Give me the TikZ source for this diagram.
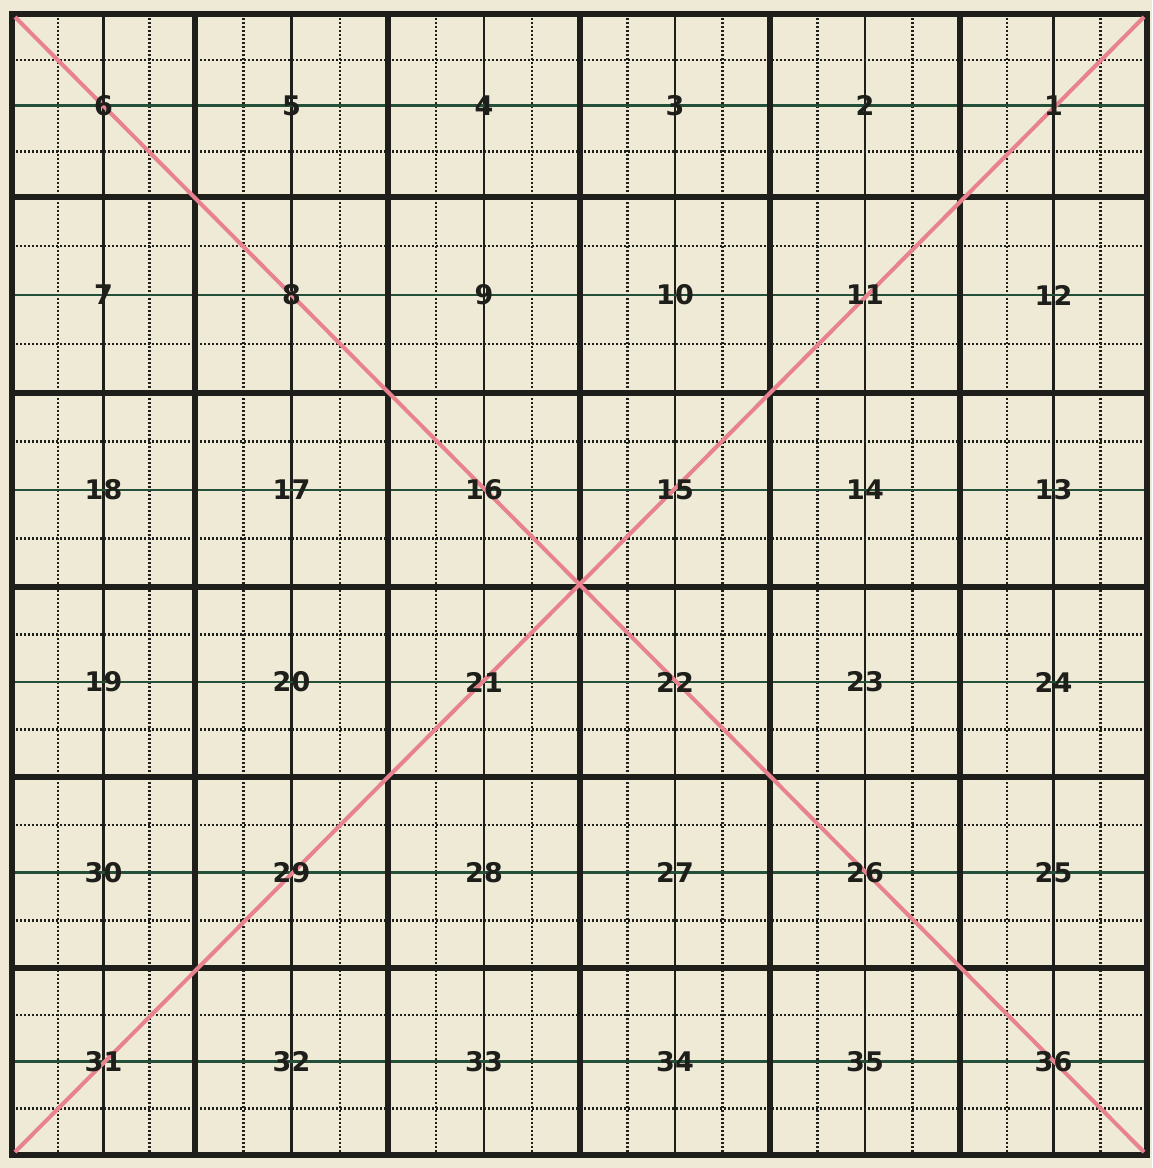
\documentclass[tikz,border=0pt]{standalone}
\usepackage{fontspec}
\setmainfont{DejaVu Sans}
\definecolor{paper}{HTML}{EEEAD6}
\definecolor{ink}{HTML}{1E1E1A}
\definecolor{gline}{HTML}{24503A}
\definecolor{pinkline}{HTML}{E8828E}
\tikzset{
  heavyline/.style={line width=6pt, draw=ink, line cap=rect},
  midvline/.style={line width=2.4pt, draw=ink},
  midhline/.style={line width=2.4pt, draw=gline},
  dotline/.style={line width=2.5pt, draw=ink, dash pattern=on 1.8pt off 2.2pt},
  diagline/.style={line width=4pt, draw=pinkline},
  numlabel/.style={font=\bfseries\fontsize{27}{27}\selectfont, text=ink, inner sep=0pt}
}
\begin{document}
\begin{tikzpicture}[x=1pt,y=-1pt]
\fill[paper] (0,0) rectangle (1152,1168);
\useasboundingbox (0,0) rectangle (1152,1168);
\def\xl{12}\def\xr{1147}\def\yt{14}\def\yb{1155}
% dotted quarter lines
\foreach \a/\b in {12/195,195/388,388/580,580/770,770/960,960/1147}{
  \draw[dotline] ({\a+(\b-\a)*0.25},\yt) -- ({\a+(\b-\a)*0.25},\yb);
  \draw[dotline] ({\a+(\b-\a)*0.75},\yt) -- ({\a+(\b-\a)*0.75},\yb);
}
\foreach \a/\b in {14/197,197/393,393/587,587/777,777/968,968/1155}{
  \draw[dotline] (\xl,{\a+(\b-\a)*0.25}) -- (\xr,{\a+(\b-\a)*0.25});
  \draw[dotline] (\xl,{\a+(\b-\a)*0.75}) -- (\xr,{\a+(\b-\a)*0.75});
}
% middle lines
\foreach \a/\b in {12/195,195/388,388/580,580/770,770/960,960/1147}{
  \draw[midvline] ({(\a+\b)/2},\yt) -- ({(\a+\b)/2},\yb);
}
\foreach \a/\b in {14/197,197/393,393/587,587/777,777/968,968/1155}{
  \draw[midhline] (\xl,{(\a+\b)/2}) -- (\xr,{(\a+\b)/2});
}
% heavy section lines
\foreach \x in {195,388,580,770,960}{
  \draw[heavyline] (\x,\yt) -- (\x,\yb);
}
\foreach \y in {197,393,587,777,968}{
  \draw[heavyline] (\xl,\y) -- (\xr,\y);
}
\draw[heavyline] (\xl,\yt) rectangle (\xr,\yb);
% diagonals
\coordinate (tl) at (15,17);
\coordinate (tr) at (1144,17);
\coordinate (bl) at (15,1152);
\coordinate (br) at (1144,1152);
\draw[diagline] (tl) -- (br);
\draw[diagline] (bl) -- (tr);
% numbers
\foreach \a/\b [count=\col] in {12/195,195/388,388/580,580/770,770/960,960/1147}{
  \foreach \c/\d [count=\row] in {14/197,197/393,393/587,587/777,777/968,968/1155}{
    \pgfmathtruncatemacro{\odd}{mod(\row,2)}
    \pgfmathtruncatemacro{\lab}{\odd==1 ? 6*(\row-1)+7-\col : 6*(\row-1)+\col}
    \node[numlabel] (n\lab) at ({(\a+\b)/2},{(\c+\d)/2}) {\lab};
  }
}
\end{tikzpicture}
\end{document}
